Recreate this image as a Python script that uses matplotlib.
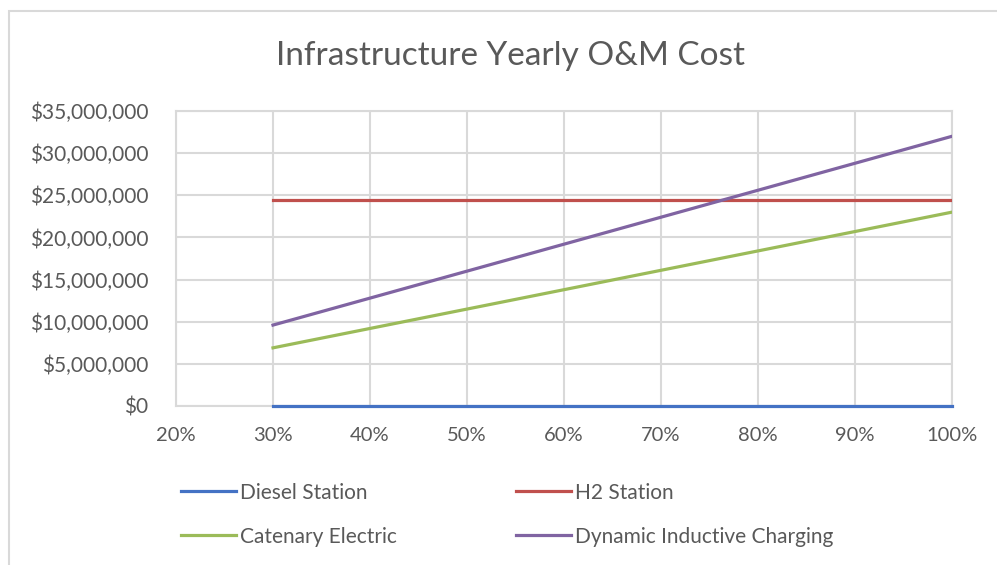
import matplotlib.pyplot as plt
from matplotlib.patches import Rectangle
from matplotlib.ticker import FuncFormatter, MultipleLocator

plt.rcParams['font.family'] = ['Lato', 'DejaVu Sans']

# Data (share -> yearly O&M cost in $)
share = [0.3, 0.4, 0.5, 0.6, 0.7, 0.8, 0.9, 1.0]
diesel = [0, 0, 0, 0, 0, 0, 0, 0]
h2 = [24.5e6, 24.5e6, 24.5e6, 24.5e6, 24.5e6, 24.5e6, 24.5e6, 24.5e6]
catenary = [6.9e6, 9.2e6, 11.5e6, 13.8e6, 16.1e6, 18.4e6, 20.7e6, 23.0e6]
dynamic = [9.6e6, 12.8e6, 16.0e6, 19.2e6, 22.4e6, 25.6e6, 28.8e6, 32.0e6]

txt = '#595959'
grid = '#d9d9d9'

fig = plt.figure(figsize=(9.97, 5.65), dpi=100)
ax = fig.add_axes([176/997, 1 - 406/565, (952-176)/997, (406-111)/565])

# chart border (cropped on right/bottom like the original)
fig.patches.append(Rectangle((9/997, -0.1), 1.2, 1 - 11/565 + 0.1, transform=fig.transFigure,
                             fill=False, edgecolor='#d9d9d9', linewidth=1.5))

l1, = ax.plot(share, diesel, color='#4472C4', lw=2.3, label='Diesel Station', clip_on=False, zorder=5)
l2, = ax.plot(share, h2, color='#C0504D', lw=2.3, label='H2 Station', zorder=5)
l3, = ax.plot(share, catenary, color='#9BBB59', lw=2.3, label='Catenary Electric', zorder=5)
l4, = ax.plot(share, dynamic, color='#8064A2', lw=2.3, label='Dynamic Inductive Charging', zorder=5)

ax.set_xlim(0.2, 1.0)
ax.set_ylim(0, 35e6)
ax.xaxis.set_major_locator(MultipleLocator(0.1))
ax.yaxis.set_major_locator(MultipleLocator(5e6))
ax.xaxis.set_major_formatter(FuncFormatter(lambda v, p: f'{v*100:.0f}%'))
ax.yaxis.set_major_formatter(FuncFormatter(lambda v, p: f'${v:,.0f}'))
ax.grid(True, color=grid, lw=1.5)
ax.set_axisbelow(True)
for s in ax.spines.values():
    s.set_color(grid)
    s.set_linewidth(1.5)
ax.tick_params(length=0, labelsize=15, colors=txt)
ax.tick_params(axis='y', pad=20)
ax.tick_params(axis='x', labelsize=14.5, pad=15)

fig.text(510/997, 1 - 56/565, 'Infrastructure Yearly O&M Cost', ha='center', va='center',
         fontsize=24, color=txt)

# row-major order like the original legend
fig.legend([l1, l3, l2, l4], [l.get_label() for l in (l1, l3, l2, l4)],
           loc='upper left', bbox_to_anchor=(162/997, 1 - 464/565), ncol=2, frameon=False,
           fontsize=15, labelcolor=txt, handlelength=2.65, handletextpad=0.2,
           columnspacing=5.7, labelspacing=1.15)

fig.savefig('out.png', dpi=100)
